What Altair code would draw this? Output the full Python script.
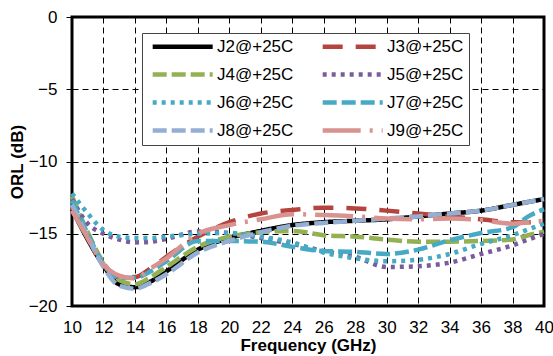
import altair as alt
import pandas as pd

freq = [10, 11, 12, 13, 14, 15, 16, 18, 20, 22, 24, 26, 28, 30, 32, 34, 36, 38, 39, 40]

series_names = ["J2@+25C", "J3@+25C", "J4@+25C", "J5@+25C",
                "J6@+25C", "J7@+25C", "J8@+25C", "J9@+25C"]

j2 = [-13.3, -15.4, -17.2, -18.5, -18.7, -18.3, -17.6, -16.1, -15.3, -14.8, -14.4, -14.2, -14.1, -14.0, -13.8, -13.6, -13.4, -13.0, -12.8, -12.6]
j3 = [-13.2, -15.3, -17.2, -18.0, -18.0, -17.4, -16.6, -15.2, -14.2, -13.6, -13.35, -13.2, -13.25, -13.4, -13.6, -13.8, -14.0, -14.2, -14.2, -14.1]
j4 = [-12.4, -14.9, -17.0, -18.2, -18.5, -18.0, -17.3, -15.9, -15.2, -14.9, -14.8, -15.1, -15.2, -15.4, -15.55, -15.55, -15.5, -15.4, -15.1, -14.85]
j5 = [-12.6, -14.3, -15.0, -15.4, -15.6, -15.55, -15.35, -14.85, -14.95, -15.3, -15.7, -16.2, -16.6, -17.3, -17.25, -17.0, -16.4, -15.8, -15.4, -15.0]
j6 = [-12.2, -13.6, -14.75, -15.2, -15.3, -15.3, -15.2, -15.0, -14.95, -15.2, -15.6, -16.3, -16.7, -16.9, -16.8, -16.4, -15.7, -15.1, -14.7, -14.3]
j7 = [-12.7, -15.0, -17.1, -18.05, -18.05, -17.6, -16.9, -15.5, -15.5, -15.55, -15.9, -16.2, -16.25, -16.4, -16.1, -15.45, -14.95, -14.55, -13.8, -13.3]
j8 = [-13.0, -15.2, -17.3, -18.6, -18.8, -18.4, -17.8, -16.3, -15.5, -14.9, -14.45, -14.25, -14.1, -13.95, -13.8, -13.6, -13.4, -13.0, -12.8, -12.6]
j9 = [-13.4, -15.3, -17.1, -17.9, -18.1, -17.4, -16.7, -15.0, -14.4, -14.0, -13.65, -13.7, -13.8, -13.95, -14.0, -13.95, -14.05, -14.3, -14.2, -14.1]

series_values = [j2, j3, j4, j5, j6, j7, j8, j9]

colors = ["#000000", "#B5443F", "#93B152", "#7A5C9C",
          "#46AAC4", "#46AAC4", "#94AED4", "#D8928F"]
dashes = [[1, 0], [20, 13], [14, 5], [4, 5], [4, 5], [14, 5], [14, 5], [38, 9, 3, 9]]

rows = []
for name, vals in zip(series_names, series_values):
    for f, v in zip(freq, vals):
        rows.append({"freq": f, "orl": v, "series": name})
df = pd.DataFrame(rows)

FONT = "Liberation Sans, Arial, sans-serif"

legend = alt.Legend(
    orient="none", legendX=70, legendY=16, columns=2, direction="horizontal", title=None,
    fillColor="white", strokeColor="#444444", padding=5,
    rowPadding=9, columnPadding=19,
    symbolType="M-0.47,0H9.53", symbolSize=144, symbolStrokeWidth=4.5,
    labelOffset=53, labelFont=FONT, labelFontSize=17, labelColor="black",
    labelLimit=300,
)

chart = alt.Chart(df).mark_line(strokeWidth=4.5, interpolate="monotone").encode(
    x=alt.X("freq:Q", scale=alt.Scale(domain=[10, 40], nice=False, zero=False),
            axis=alt.Axis(title="Frequency (GHz)", values=list(range(10, 41, 2)),
                          ticks=False, tickSize=0, labelPadding=13, titlePadding=2,
                          labelFlush=False, labelOverlap=False,
                          domain=False, grid=True)),
    y=alt.Y("orl:Q", scale=alt.Scale(domain=[-20, 0], nice=False, zero=False),
            axis=alt.Axis(title="ORL (dB)", values=[-20, -15, -10, -5, 0],
                          tickSize=6, labelPadding=9, titlePadding=2,
                          labelFlush=False,
                          domain=False, grid=True)),
    color=alt.Color("series:N", scale=alt.Scale(domain=series_names, range=colors), legend=legend),
    strokeDash=alt.StrokeDash("series:N", scale=alt.Scale(domain=series_names, range=dashes), legend=legend),
    order=alt.Order("series:N"),
).properties(
    width=472, height=289,
    padding={"left": 72, "top": 17, "right": 9, "bottom": 50},
    autosize=alt.AutoSizeParams(type="none"),
).configure_view(
    stroke="black", strokeWidth=3
).configure_axis(
    labelFont=FONT, labelFontSize=17, labelColor="black",
    titleFont=FONT, titleFontSize=17, titleFontWeight="bold", titleColor="black",
    gridColor="black", gridDash=[6, 4], gridWidth=1, gridOpacity=1,
    tickColor="black", tickWidth=1,
)

chart.save("out.html", embed_options={"renderer": "svg", "actions": False})
